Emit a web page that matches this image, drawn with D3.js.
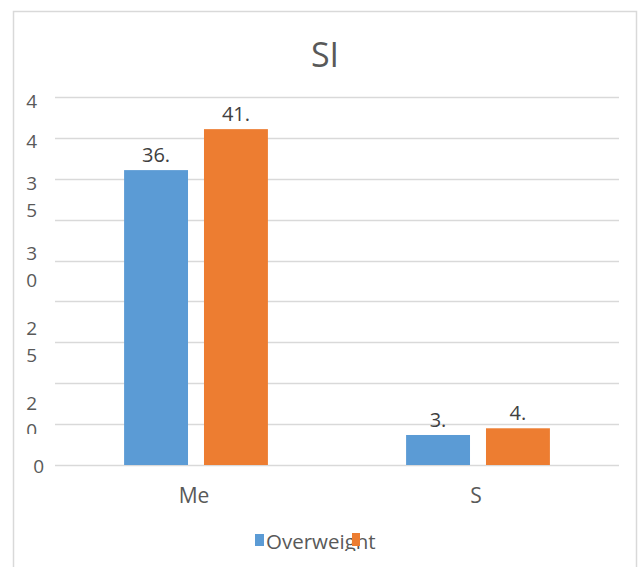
<!DOCTYPE html>
<meta charset="utf-8">
<head>
    <script src="https://d3js.org/d3.v7.min.js"></script>
    <style>
        body { margin: 0; background: white; }
        text { font-family: "Open Sans", sans-serif; }
    </style>
</head>
<body>
<div class="viz"></div>
<script>
    // data
    var categories = ["Me", "S"];
    var seriesNames = ["Overweight", "Obese"];
    var overweight = [36.06, 3.67];
    var obese = [41.07, 4.49];
    var colors = ["#5b9bd5", "#ed7d31"];
    var yTicks = [0, 5, 10, 15, 20, 25, 30, 35, 40, 45];
    // the axis labels are squeezed and wrapped in the original
    var yLabels = [
        {at: 44.5, lines: ["4"]},
        {at: 39.6, lines: ["4"]},
        {at: 34.5, lines: ["3", "5"]},
        {at: 25.9, lines: ["3", "0"]},
        {at: 16.7, lines: ["2", "5"]},
        {at: 7.6, lines: ["2", "0"]},
        {at: -0.2, lines: ["0"]}
    ];

    var width = 639, height = 567;
    var svg = d3.select("div.viz").append("svg")
        .attr("width", width)
        .attr("height", height);

    // chart border
    svg.append("rect")
        .attr("x", 13.5).attr("y", 11.5)
        .attr("width", 623).attr("height", 600)
        .attr("fill", "white")
        .attr("stroke", "#d9d9d9")
        .attr("stroke-width", 1.5);

    var y = d3.scaleLinear().domain([0, 45]).range([465, 97]);
    var x0 = d3.scaleBand().domain(categories).range([55, 619]);
    var bw = x0.bandwidth();
    var x1 = d3.scaleBand().domain(seriesNames)
        .range([bw * 0.245, bw * 0.755]).paddingInner(0.2);

    // title
    svg.append("text")
        .attr("x", 325).attr("y", 67)
        .attr("text-anchor", "middle")
        .attr("font-size", 34)
        .attr("fill", "#595959")
        .text("SI");

    // gridlines
    svg.append("g").selectAll("line")
        .data(yTicks)
        .enter().append("line")
        .attr("x1", 55).attr("x2", 619)
        .attr("y1", function(d) { return Math.round(y(d)) + 0.5; })
        .attr("y2", function(d) { return Math.round(y(d)) + 0.5; })
        .attr("stroke", "#d9d9d9")
        .attr("stroke-width", 1.3);

    // y labels, clipped like the reference
    var defs = svg.append("defs");
    var cp = defs.append("clipPath").attr("id", "yclip");
    cp.append("rect").attr("x", 0).attr("y", 0).attr("width", 52).attr("height", 434);
    cp.append("rect").attr("x", 0).attr("y", 457).attr("width", 52).attr("height", 120);

    var yl = svg.append("g").attr("clip-path", "url(#yclip)");
    yLabels.forEach(function(l, i) {
        var last = i == yLabels.length - 1;
        l.lines.forEach(function(t, j) {
            yl.append("text")
                .attr("x", last ? 44 : 37)
                .attr("y", y(l.at) + j * 27)
                .attr("dy", "0.36em")
                .attr("text-anchor", "end")
                .attr("font-size", 19)
                .attr("fill", "#595959")
                .text(t);
        });
    });

    // bars
    var rows = categories.map(function(c, i) {
        return {cat: c, vals: [overweight[i], obese[i]]};
    });

    var groups = svg.append("g").selectAll("g")
        .data(rows)
        .enter().append("g")
        .attr("transform", function(d) { return "translate(" + x0(d.cat) + ",0)"; });

    groups.selectAll("rect")
        .data(function(d) { return d.vals.map(function(v, k) { return {name: seriesNames[k], v: v, k: k}; }); })
        .enter().append("rect")
        .attr("x", function(d) { return x1(d.name); })
        .attr("width", x1.bandwidth())
        .attr("y", function(d) { return y(d.v); })
        .attr("height", function(d) { return y(0) - y(d.v); })
        .attr("fill", function(d) { return colors[d.k]; });

    groups.selectAll("text")
        .data(function(d) { return d.vals.map(function(v, k) { return {name: seriesNames[k], v: v, k: k}; }); })
        .enter().append("text")
        .attr("x", function(d) { return x1(d.name) + x1.bandwidth() / 2; })
        .attr("y", function(d) { return y(d.v) - 8; })
        .attr("text-anchor", "middle")
        .attr("font-size", 20)
        .attr("fill", "#404040")
        .text(function(d) { return Math.floor(d.v) + "."; });

    // category labels
    svg.append("g").selectAll("text")
        .data(categories)
        .enter().append("text")
        .attr("x", function(d) { return x0(d) + bw / 2 - 2; })
        .attr("y", 503)
        .attr("text-anchor", "middle")
        .attr("font-size", 21)
        .attr("fill", "#595959")
        .text(function(d) { return d; });

    // legend, cut off at the bottom
    defs.append("clipPath").attr("id", "legclip")
        .append("rect").attr("x", 0).attr("y", 0).attr("width", width).attr("height", 551);

    var leg = svg.append("g").attr("clip-path", "url(#legclip)");
    leg.append("text")
        .attr("x", 266).attr("y", 549)
        .attr("font-size", 20.5)
        .attr("fill", "#595959")
        .text(seriesNames[0]);
    leg.append("rect")
        .attr("x", 255).attr("y", 534).attr("width", 9).attr("height", 12)
        .attr("fill", colors[0]);
    leg.append("rect")
        .attr("x", 352).attr("y", 533).attr("width", 8).attr("height", 13)
        .attr("fill", colors[1]);
</script>
</body>
